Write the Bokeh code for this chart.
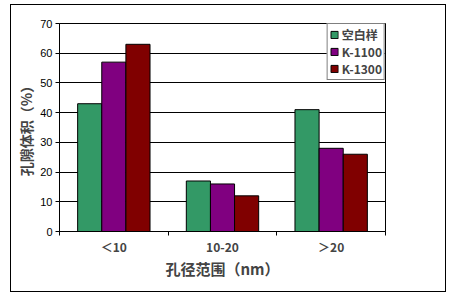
import numpy as np
from bokeh.plotting import figure
from bokeh.models import (ColumnDataSource, Range1d, FixedTicker, Legend, LegendItem)
from bokeh.transform import dodge
from bokeh.embed import file_html
from bokeh.resources import INLINE

categories = ["＜10", "10-20", "＞20"]
series_names = ["空白样", "K-1100", "K-1300"]
blank = [43, 17, 41]
k1100 = [57, 16, 28]
k1300 = [63, 12, 26]
colors = ["#339966", "#800080", "#800000"]
y_ticks = [0, 10, 20, 30, 40, 50, 60, 70]

xpos = np.arange(len(categories)) + 0.5
src = ColumnDataSource(dict(x=xpos, blank=blank, k1100=k1100, k1300=k1300))

p = figure(width=436, height=288, output_backend="svg", toolbar_location=None,
           x_range=Range1d(0, 3), y_range=Range1d(0, 70),
           min_border_left=48, min_border_right=62, min_border_top=18, min_border_bottom=62)
p.margin = (4, 0, 0, 10)
p.styles = {"border": "1px solid black"}
p.outline_line_color = "black"
p.outline_line_width = 1
p.background_fill_color = "white"
p.border_fill_color = "white"

bw = 0.222
offs = [-bw, 0, bw]
keys = ["blank", "k1100", "k1300"]
renderers = []
for k, o, c in zip(keys, offs, colors):
    r = p.vbar(x=dodge("x", o, range=p.x_range), top=k, width=bw, source=src,
               fill_color=c, line_color="black", line_width=1)
    renderers.append(r)

# grid
p.xgrid.visible = False
p.ygrid.ticker = FixedTicker(ticks=y_ticks)
p.ygrid.grid_line_color = "black"
p.ygrid.grid_line_width = 1

# y axis
p.yaxis.ticker = FixedTicker(ticks=y_ticks)
p.yaxis.axis_line_color = "black"
p.yaxis.major_tick_line_color = "black"
p.yaxis.major_tick_out = 4
p.yaxis.major_tick_in = 0
p.yaxis.minor_tick_line_color = None
p.yaxis.major_label_text_font = "Liberation Sans"
p.yaxis.major_label_text_font_size = "11px"
p.yaxis.major_label_text_color = "black"
p.yaxis.major_label_standoff = 3
p.yaxis.axis_label = "孔隙体积（%）"
p.yaxis.axis_label_text_font = "Noto Sans CJK SC"
p.yaxis.axis_label_text_font_style = "bold"
p.yaxis.axis_label_text_font_size = "14px"
p.yaxis.axis_label_standoff = 1

# x axis
p.xaxis.ticker = FixedTicker(ticks=list(xpos), minor_ticks=[0, 1, 2, 3])
p.xaxis.major_label_overrides = {float(v): c for v, c in zip(xpos, categories)}
p.xaxis.major_tick_line_color = None
p.xaxis.minor_tick_line_color = "black"
p.xaxis.minor_tick_out = 4
p.xaxis.minor_tick_in = 0
p.xaxis.axis_line_color = "black"
p.xaxis.major_label_text_font = "Noto Sans CJK SC"
p.xaxis.major_label_text_font_style = "bold"
p.xaxis.major_label_text_font_size = "12px"
p.xaxis.major_label_standoff = 0
p.xaxis.axis_label = "孔径范围（nm）"
p.xaxis.axis_label_text_font = "Noto Sans CJK SC"
p.xaxis.axis_label_text_font_style = "bold"
p.xaxis.axis_label_text_font_size = "15px"
p.xaxis.axis_label_standoff = 0

legend = Legend(items=[LegendItem(label=n, renderers=[r]) for n, r in zip(series_names, renderers)],
                location="top_right")
legend.margin = 0
legend.padding = 2
legend.spacing = 0
legend.glyph_width = 9
legend.glyph_height = 9
legend.label_standoff = 3
legend.label_height = 12
legend.label_text_font = "Noto Sans CJK SC"
legend.label_text_font_style = "bold"
legend.label_text_font_size = "12px"
legend.border_line_color = "black"
legend.border_line_width = 1
legend.background_fill_alpha = 1
p.add_layout(legend)

open("out.html", "w").write(file_html(p, INLINE))
